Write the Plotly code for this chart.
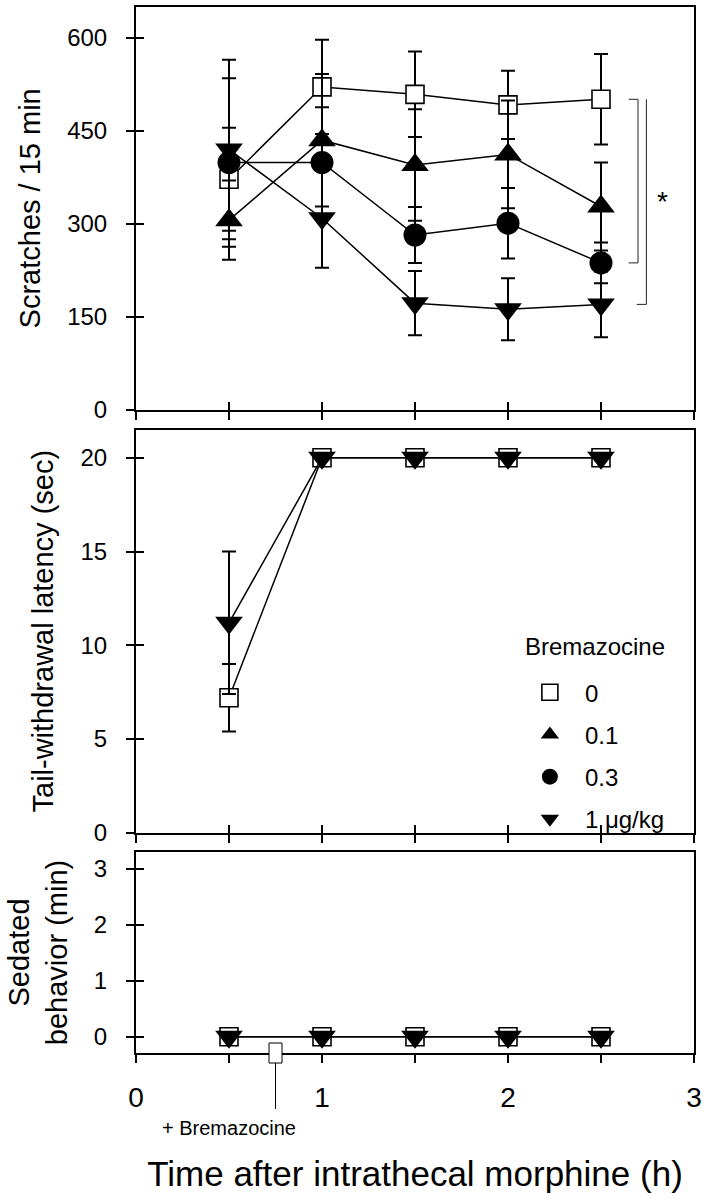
import plotly.graph_objects as go

# ---------------- data ----------------
time_h = [0.5, 1.0, 1.5, 2.0, 2.5]
dose_labels = ["0", "0.1", "0.3", "1 μg/kg"]
legend_title = "Bremazocine"
injection_time = 0.75
injection_label = "+ Bremazocine"

# Scratches / 15 min (mean, SEM)
scratch_0 = [372, 521, 509, 492, 501]
scratch_0_sem = [83, 76, 69, 55, 73]
scratch_01 = [306, 435, 395, 412, 328]
scratch_01_sem = [64, 107, 90, 87, 71]
scratch_03 = [399, 399, 282, 301, 237]
scratch_03_sem = [136, 89, 45, 57, 33]
scratch_1 = [420, 309, 172, 162, 170]
scratch_1_sem = [145, 80, 52, 50, 53]

# Tail-withdrawal latency (sec) - only 0 and 1 ug/kg groups are visible
tail_0 = [7.2, 20, 20, 20, 20]
tail_0_sem = [1.8, 0, 0, 0, 0]
tail_01 = [None, None, None, None, None]
tail_01_sem = [0, 0, 0, 0, 0]
tail_03 = [None, None, None, None, None]
tail_03_sem = [0, 0, 0, 0, 0]
tail_1 = [11.2, 20, 20, 20, 20]
tail_1_sem = [3.8, 0, 0, 0, 0]

# Sedated behavior (min)
sed_0 = [0, 0, 0, 0, 0]
sed_01 = [None, None, None, None, None]
sed_03 = [None, None, None, None, None]
sed_1 = [0, 0, 0, 0, 0]

x_tickvals = [0, 0.5, 1, 1.5, 2, 2.5, 3]
x_ticktext = ["0", "", "1", "", "2", "", "3"]
y1_ticks = [0, 150, 300, 450, 600]
y2_ticks = [0, 5, 10, 15, 20]
y3_ticks = [0, 1, 2, 3]
y1_range = [0, 650]
y2_range = [0, 21.5]
y3_range = [-0.29, 3.3]
x_range = [0, 3]

# ---------------- styles ----------------
FONT = "Liberation Sans, Arial, sans-serif"
styles = [
    dict(symbol="square", size=18, color="white", line=dict(color="black", width=1.6)),
    dict(symbol="triangle-up", size=24, color="black", line=dict(color="black", width=0)),
    dict(symbol="circle", size=23, color="black", line=dict(color="black", width=0)),
    dict(symbol="triangle-down", size=24, color="black", line=dict(color="black", width=0)),
]

fig = go.Figure()

panels = [
    ("x", "y", [scratch_0, scratch_01, scratch_03, scratch_1],
     [scratch_0_sem, scratch_01_sem, scratch_03_sem, scratch_1_sem]),
    ("x2", "y2", [tail_0, tail_01, tail_03, tail_1],
     [tail_0_sem, tail_01_sem, tail_03_sem, tail_1_sem]),
    ("x3", "y3", [sed_0, sed_01, sed_03, sed_1], None),
]

for xa, ya, series, sems in panels:
    for i, ys in enumerate(series):
        err = None
        if sems is not None:
            err = dict(type="data", array=sems[i], visible=True, color="black",
                       thickness=2, width=7)
        fig.add_trace(go.Scatter(
            x=time_h, y=ys, xaxis=xa, yaxis=ya, mode="lines+markers",
            line=dict(color="black", width=1.5),
            marker=styles[i], error_y=err, showlegend=False,
            legendgroup=dose_labels[i], hoverinfo="skip"))

# legend-only marker traces
for i, lab in enumerate(dose_labels):
    fig.add_trace(go.Scatter(
        x=[None], y=[None], xaxis="x2", yaxis="y2", mode="markers",
        marker=styles[i], name=lab, legendgroup=lab, showlegend=True))

# dummy traces for twin (inside-tick) axes -> crossing ticks
for xa, ya in [("x4", "y4"), ("x5", "y5"), ("x3", "y6")]:
    fig.add_trace(go.Scatter(x=[None], y=[None], xaxis=xa, yaxis=ya,
                             showlegend=False, hoverinfo="skip"))

base = dict(showline=True, linewidth=2, linecolor="black", mirror=True,
            ticks="outside", ticklen=8, tickwidth=2, tickcolor="black",
            showgrid=False, zeroline=False, automargin=False,
            tickfont=dict(family=FONT, size=24, color="black"))
twin = dict(showline=False, ticks="inside", ticklen=8, tickwidth=2,
            tickcolor="black", showgrid=False, zeroline=False,
            showticklabels=False, automargin=False)

dom_top = [0.615, 1.0]
dom_mid = [0.2106, 0.5959]
dom_bot = [0.0, 0.1922]

title_font = dict(family=FONT, size=29, color="black")

fig.update_layout(
    width=704, height=1201,
    margin=dict(l=136, r=10, t=7, b=148),
    paper_bgcolor="white", plot_bgcolor="white",
    font=dict(family=FONT, color="black"),
    xaxis=dict(base, domain=[0, 1], range=x_range, tickvals=x_tickvals,
               showticklabels=False, anchor="y"),
    yaxis=dict(base, domain=dom_top, range=y1_range, tickvals=y1_ticks,
               anchor="x", ticklabelstandoff=14,
               title=dict(text="Scratches / 15 min", font=title_font, standoff=18)),
    xaxis2=dict(base, domain=[0, 1], range=x_range, tickvals=x_tickvals,
                showticklabels=False, anchor="y2"),
    yaxis2=dict(base, domain=dom_mid, range=y2_range, tickvals=y2_ticks,
                anchor="x2", ticklabelstandoff=14,
                title=dict(text="Tail-withdrawal latency (sec)", font=title_font, standoff=18)),
    xaxis3=dict(base, domain=[0, 1], range=x_range, tickvals=x_tickvals,
                ticktext=x_ticktext, anchor="y3", ticklabelstandoff=10,
                tickfont=dict(family=FONT, size=28, color="black"),
                title=dict(text="Time after intrathecal morphine (h)",
                           font=dict(family=FONT, size=35, color="black"), standoff=50)),
    yaxis3=dict(base, domain=dom_bot, range=y3_range, tickvals=y3_ticks,
                anchor="x3", ticklabelstandoff=14,
                title=dict(text="Sedated<br>behavior (min)", font=title_font, standoff=18)),
    xaxis4=dict(twin, overlaying="x", anchor="y", range=x_range, tickvals=x_tickvals),
    yaxis4=dict(twin, overlaying="y", anchor="x", side="left", range=y1_range, tickvals=y1_ticks),
    xaxis5=dict(twin, overlaying="x2", anchor="y2", range=x_range, tickvals=x_tickvals),
    yaxis5=dict(twin, overlaying="y2", anchor="x2", side="left", range=y2_range, tickvals=y2_ticks),
    yaxis6=dict(twin, overlaying="y3", anchor="x3", side="left", range=y3_range, tickvals=y3_ticks),
    legend=dict(x=0.679, xanchor="left", y=0.366, yanchor="top",
                font=dict(family=FONT, size=24, color="black"),
                itemwidth=60, traceorder="grouped", tracegroupgap=8,
                bgcolor="rgba(0,0,0,0)", borderwidth=0),
)

# legend heading
fig.add_annotation(text=legend_title, xref="paper", yref="paper",
                   x=0.694, y=0.389, xanchor="left", yanchor="middle",
                   showarrow=False, font=dict(family=FONT, size=24, color="black"))

# significance brackets (top panel)
br_top = scratch_0[-1]
br_mid = scratch_03[-1]
br_low = scratch_1[-1]
bl = dict(color="#222", width=1)
for (x0, y0, x1, y1) in [
    (2.649, br_top, 2.699, br_top), (2.699, br_top, 2.699, br_mid),
    (2.649, br_mid, 2.699, br_mid),
    (2.744, br_top, 2.744, br_low), (2.692, br_low, 2.744, br_low)]:
    fig.add_shape(type="line", xref="x", yref="y", x0=x0, y0=y0, x1=x1, y1=y1, line=bl)
fig.add_annotation(text="*", xref="x", yref="y", x=2.83, y=(br_top + br_low) / 2,
                   showarrow=False, font=dict(family=FONT, size=28, color="black"))

# injection marker on bottom axis
fig.add_shape(type="line", xref="x3", yref="paper", xsizemode="pixel", ysizemode="pixel",
              xanchor=injection_time, yanchor=0, x0=0, x1=0, y0=-10, y1=-56,
              line=dict(color="black", width=1))
fig.add_shape(type="rect", xref="x3", yref="paper", xsizemode="pixel", ysizemode="pixel",
              xanchor=injection_time, yanchor=0, x0=-6.5, x1=6.5, y0=-10, y1=10,
              line=dict(color="black", width=1), fillcolor="white", layer="above")
fig.add_annotation(text=injection_label, xref="x3", yref="paper", x=0.5, y=-0.0714,
                   xanchor="center", yanchor="middle", showarrow=False,
                   font=dict(family=FONT, size=20, color="black"))

fig.write_html("out.html", config={"displayModeBar": False},
               post_script="document.body.style.margin='0';")
